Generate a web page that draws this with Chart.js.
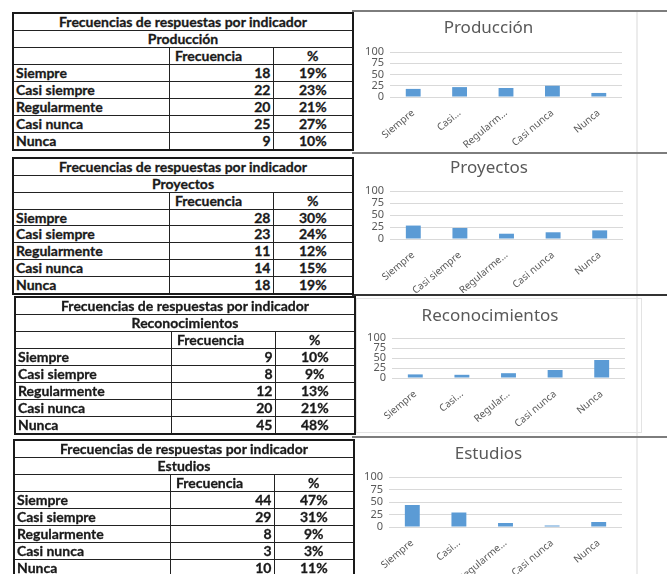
<!DOCTYPE html>
<html>
<head>
<meta charset="utf-8">
<script src="https://cdn.jsdelivr.net/npm/chart.js@4.4.1/dist/chart.umd.min.js"></script>
<style>
  body { margin: 0; width: 667px; height: 574px; overflow: hidden; background: #fff; position: relative; }
  .tbl { position: absolute; border-collapse: collapse; table-layout: fixed; border: 2px solid #1a1a1a;
         font-family: Lato, sans-serif; font-weight: bold; font-size: 14px; color: #1a1a1a;
         -webkit-text-stroke: 0.3px #1a1a1a; }
  .tbl td { border: 1px solid #222; padding: 0 2px; white-space: nowrap; overflow: hidden; line-height: 14px; }
  .c { text-align: center; }
  .r { text-align: right; }
  .sep { position: absolute; left: 352px; width: 315px; height: 2px; background: #7d7d7d; }
  .vline { position: absolute; left: 636px; top: 12px; width: 2px; height: 562px; background: #ececec; }
  .box { position: absolute; left: 356px; top: 298px; width: 284px; height: 133px; border: 1px solid #e3e3e3; }
  canvas { position: absolute; left: 355px; }
</style>
</head>
<body>
<div class="vline"></div>
<div class="box"></div>
<div class="sep" style="top:10px"></div>
<div class="sep" style="top:152px"></div>
<div class="sep" style="top:294px; background:#333"></div>
<div class="sep" style="top:436px"></div>

<canvas id="c1" width="282" height="137" style="top:13px"></canvas>
<canvas id="c2" width="282" height="137" style="top:156px"></canvas>
<canvas id="c3" width="282" height="132" style="top:299px"></canvas>
<canvas id="c4" width="282" height="134" style="top:440px"></canvas>

<script>
const categories = ["Siempre", "Casi siempre", "Regularmente", "Casi nunca", "Nunca"];
const tableTitle = "Frecuencias de respuestas por indicador";
const yTicks = [0, 25, 50, 75, 100];

const produccionFreq = [18, 22, 20, 25, 9];
const produccionPct = [19, 23, 21, 27, 10];
const produccionLabels = ["Siempre", "Casi...", "Regularm...", "Casi nunca", "Nunca"];

const proyectosFreq = [28, 23, 11, 14, 18];
const proyectosPct = [30, 24, 12, 15, 19];
const proyectosLabels = ["Siempre", "Casi siempre", "Regularme...", "Casi nunca", "Nunca"];

const reconocimientosFreq = [9, 8, 12, 20, 45];
const reconocimientosPct = [10, 9, 13, 21, 48];
const reconocimientosLabels = ["Siempre", "Casi...", "Regular...", "Casi nunca", "Nunca"];

const estudiosFreq = [44, 29, 8, 3, 10];
const estudiosPct = [47, 31, 9, 3, 11];
const estudiosLabels = ["Siempre", "Casi...", "Regularme...", "Casi nunca", "Nunca"];

// left-hand tables
function buildTable(name, freq, pct, left, top, height) {
    const t = document.createElement("table");
    t.className = "tbl";
    t.style.left = left + "px";
    t.style.top = top + "px";
    t.style.width = "340px";
    t.style.height = height + "px";
    let html = '<colgroup><col style="width:156px"><col style="width:104px"><col style="width:80px"></colgroup>';
    html += '<tr><td colspan="3" class="c">' + tableTitle + '</td></tr>';
    html += '<tr><td colspan="3" class="c">' + name + '</td></tr>';
    html += '<tr><td></td><td>&nbsp;Frecuencia</td><td class="c">%</td></tr>';
    categories.forEach((cat, i) => {
        html += '<tr><td>' + cat + '</td><td class="r">' + freq[i] + '</td><td class="c">' + pct[i] + '%</td></tr>';
    });
    t.innerHTML = html;
    document.body.appendChild(t);
}

buildTable("Producción", produccionFreq, produccionPct, 12, 12, 139);
buildTable("Proyectos", proyectosFreq, proyectosPct, 12, 157, 138);
buildTable("Reconocimientos", reconocimientosFreq, reconocimientosPct, 14, 296, 139);
buildTable("Estudios", estudiosFreq, estudiosPct, 13, 439, 139);

// small bar charts on the right
function makeChart(id, title, freq, labels, g) {
    const canvas = document.getElementById(id);
    const titleSize = 17;
    const padTop = g.titleY - titleSize * 0.6;
    const padBottom = g.plotTop - padTop - titleSize * 1.2;
    return new Chart(canvas.getContext("2d"), {
        type: "bar",
        data: {
            labels: labels,
            datasets: [{
                label: title,
                data: freq,
                backgroundColor: "#5b9bd5",
                barPercentage: 0.32,
                categoryPercentage: 1
            }]
        },
        options: {
            responsive: false,
            animation: false,
            layout: { padding: { left: 0, right: g.right, top: 0, bottom: 0 } },
            plugins: {
                legend: { display: false },
                tooltip: { enabled: false },
                title: {
                    display: true,
                    text: title,
                    color: "#595959",
                    font: { family: "'Noto Sans'", size: titleSize, weight: "normal" },
                    padding: { top: padTop, bottom: padBottom }
                }
            },
            scales: {
                x: {
                    grid: { display: false },
                    border: { display: false },
                    ticks: {
                        color: "#595959",
                        font: { family: "'Noto Sans'", size: 10 },
                        minRotation: 40,
                        maxRotation: 40,
                        autoSkip: false,
                        padding: 2
                    },
                    afterFit: (s) => { s.height = canvas.height - g.plotBottom; }
                },
                y: {
                    min: 0,
                    max: 100,
                    afterBuildTicks: (s) => { s.ticks = yTicks.map(v => ({ value: v })); },
                    grid: { color: "#d9d9d9", drawTicks: false },
                    border: { display: false },
                    ticks: {
                        color: "#595959",
                        font: { family: "'Noto Sans'", size: 11 },
                        autoSkip: false,
                        padding: 6
                    },
                    afterFit: (s) => { s.width = g.left; }
                }
            }
        }
    });
}

// positions relative to each canvas
makeChart("c1", "Producción", produccionFreq, produccionLabels, { titleY: 15, plotTop: 39, plotBottom: 84, left: 35, right: 15 });
makeChart("c2", "Proyectos", proyectosFreq, proyectosLabels, { titleY: 12, plotTop: 35, plotBottom: 83, left: 35, right: 14 });
makeChart("c3", "Reconocimientos", reconocimientosFreq, reconocimientosLabels, { titleY: 17, plotTop: 39, plotBottom: 79, left: 37, right: 12 });
makeChart("c4", "Estudios", estudiosFreq, estudiosLabels, { titleY: 14, plotTop: 37, plotBottom: 87, left: 34, right: 15 });
</script>
</body>
</html>
